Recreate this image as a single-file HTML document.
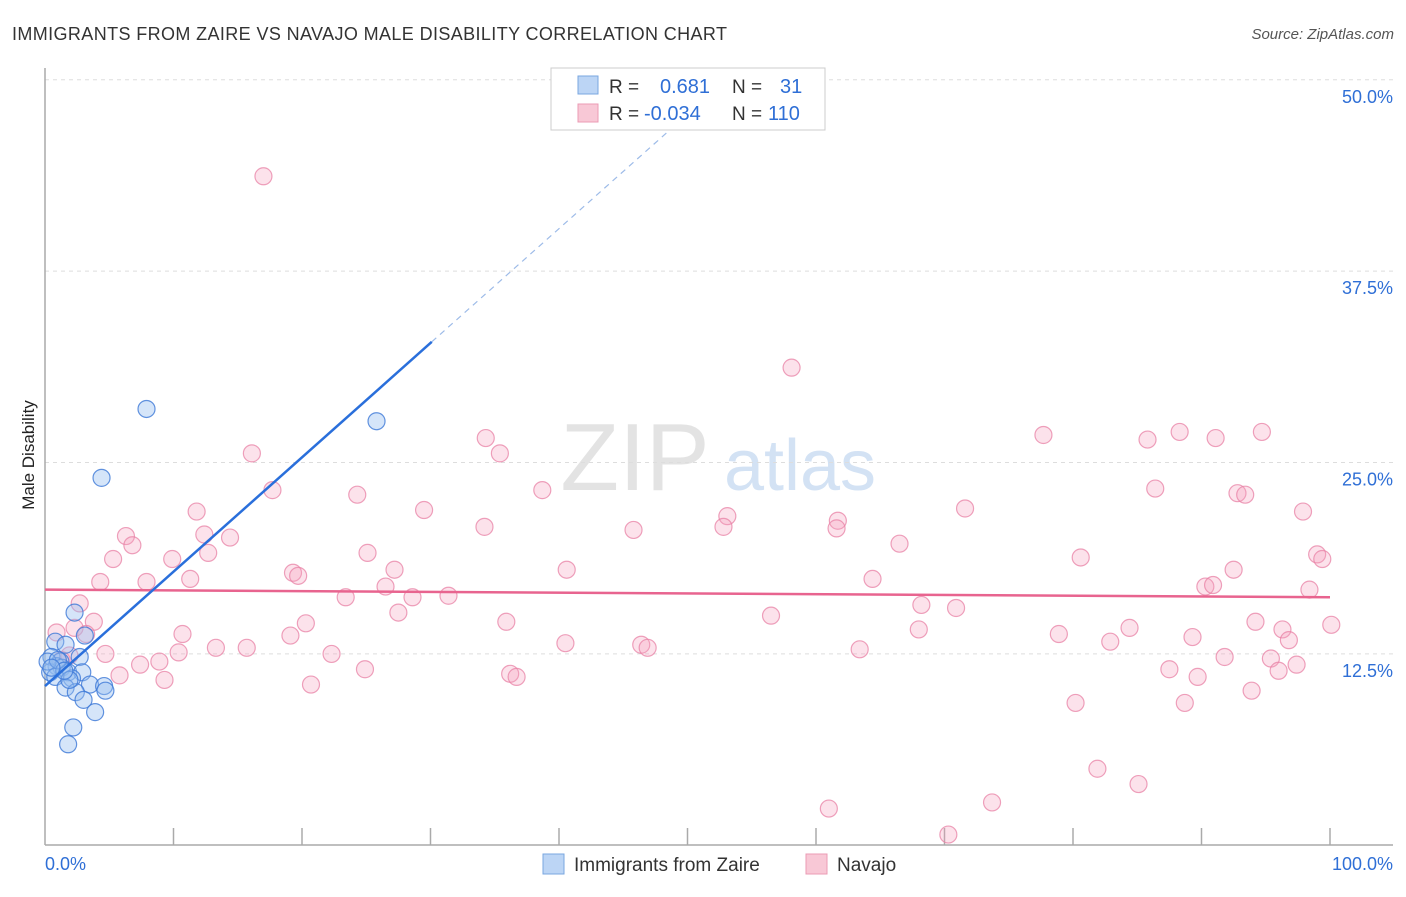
<!DOCTYPE html>
<html><head><meta charset="utf-8"><style>
body{margin:0;background:#fff;font-family:"Liberation Sans",sans-serif;}
svg text{font-family:"Liberation Sans",sans-serif;}
</style></head><body>
<svg id="chart" width="1406" height="892" viewBox="0 0 1406 892">
<text x="12" y="40" font-size="18" fill="#333" textLength="715">IMMIGRANTS FROM ZAIRE VS NAVAJO MALE DISABILITY CORRELATION CHART</text>
<text x="1394" y="39" font-size="15" fill="#555" font-style="italic" text-anchor="end">Source: ZipAtlas.com</text>
<text x="34" y="455" font-size="17" fill="#222" text-anchor="middle" transform="rotate(-90 34 455)">Male Disability</text>
<g>
<text x="635" y="490" font-size="96" fill="#ddd" font-family="Liberation Serif" text-anchor="middle" opacity="0.8">ZIP</text>
<text x="800" y="490" font-size="72" fill="#c9dcf2" text-anchor="middle" opacity="0.8">atlas</text>
</g>
<g id="grid"></g>
<g id="axes"></g>
<g id="marks"></g>
<g>
<rect x="551" y="68" width="274" height="62" fill="#fff" stroke="#ccc"/>
<rect x="578" y="76" width="20" height="18" fill="#bcd5f5" stroke="#7aa7e0"/>
<rect x="578" y="104" width="20" height="18" fill="#f8c8d6" stroke="#eb9bb4"/>
<text x="609" y="93" font-size="19" fill="#333">R = </text><text x="660" y="93" font-size="20" fill="#2f6fd6">0.681</text>
<text x="732" y="93" font-size="19" fill="#333">N = </text><text x="780" y="93" font-size="20" fill="#2f6fd6">31</text>
<text x="609" y="120" font-size="19" fill="#333">R = </text><text x="644" y="120" font-size="20" fill="#2f6fd6">-0.034</text>
<text x="732" y="120" font-size="19" fill="#333">N = </text><text x="768" y="120" font-size="20" fill="#2f6fd6">110</text>
</g>
<g>
<rect x="543" y="854" width="21" height="20" fill="#bcd5f5" stroke="#7aa7e0"/>
<text x="574" y="871" font-size="19" fill="#333">Immigrants from Zaire</text>
<rect x="806" y="854" width="21" height="20" fill="#f8c8d6" stroke="#eb9bb4"/>
<text x="837" y="871" font-size="19" fill="#333">Navajo</text>
</g>
</svg>
<script>
const yTicks=[12.5,25,37.5,50];
const yTickLabels=["12.5%","25.0%","37.5%","50.0%"];
const xTickLabels=["0.0%","100.0%"];
const zaireX=[7.9,25.8,4.4,2.3,3.1,0.8,1.6,0.5,2.7,1.2,0.9,1.3,0.4,1.8,2.9,0.8,2.1,3.5,1.6,2.4,4.6,4.7,3.0,3.9,2.2,1.8,0.2,1.0,1.9,1.5,0.5];
const zaireY=[28.5,27.7,24.0,15.2,13.7,13.3,13.1,12.3,12.3,12.0,11.7,11.6,11.3,11.3,11.3,11.0,10.9,10.5,10.3,10.0,10.4,10.1,9.5,8.7,7.7,6.6,12.0,12.1,10.8,11.4,11.6];
const navajoX=[17.0,58.1,16.1,34.3,35.4,77.7,85.8,88.3,91.1,94.7,17.7,24.3,38.7,86.4,92.8,93.4,11.8,29.5,34.2,45.8,53.1,52.8,61.7,61.6,71.6,97.9,6.3,12.4,14.4,6.8,5.3,9.9,12.7,25.1,66.5,80.6,99.0,99.4,4.3,7.9,11.3,19.3,19.7,27.2,40.6,64.4,92.5,26.5,90.3,90.9,98.4,2.7,3.8,23.4,28.6,31.4,68.2,70.9,27.5,56.5,94.2,20.3,35.9,0.9,2.3,3.2,10.7,19.1,68.0,78.9,84.4,89.3,96.3,96.8,40.5,46.4,46.9,13.3,15.7,4.7,8.9,10.4,22.3,63.4,82.9,91.8,95.4,97.4,96.0,7.4,5.8,24.9,87.5,89.7,9.3,20.7,36.2,36.7,93.9,80.2,88.7,81.9,85.1,61.0,73.7,70.3,100.1,1.3,1.9];
const navajoY=[43.7,31.2,25.6,26.6,25.6,26.8,26.5,27.0,26.6,27.0,23.2,22.9,23.2,23.3,23.0,22.9,21.8,21.9,20.8,20.6,21.5,20.8,21.2,20.7,22.0,21.8,20.2,20.3,20.1,19.6,18.7,18.7,19.1,19.1,19.7,18.8,19.0,18.7,17.2,17.2,17.4,17.8,17.6,18.0,18.0,17.4,18.0,16.9,16.9,17.0,16.7,15.8,14.6,16.2,16.2,16.3,15.7,15.5,15.2,15.0,14.6,14.5,14.6,13.9,14.2,13.8,13.8,13.7,14.1,13.8,14.2,13.6,14.1,13.4,13.2,13.1,12.9,12.9,12.9,12.5,12.0,12.6,12.5,12.8,13.3,12.3,12.2,11.8,11.4,11.8,11.1,11.5,11.5,11.0,10.8,10.5,11.2,11.0,10.1,9.3,9.3,5.0,4.0,2.4,2.8,0.7,14.4,12.1,12.4];
const zaireTrend=[10.4,0.747]; // intercept, slope
const navajoTrend=[16.7,-0.005];
const NS='http://www.w3.org/2000/svg';
const X=v=>45+v*12.85, Y=v=>845.3-v*15.31;
function mk(t,a,p){const e=document.createElementNS(NS,t);for(const k in a)e.setAttribute(k,a[k]);p.appendChild(e);return e;}
const grid=document.getElementById('grid'),axes=document.getElementById('axes'),marks=document.getElementById('marks');
yTicks.forEach((t,i)=>{
 const l=mk('line',{x1:45,x2:1393,y1:Y(t),y2:Y(t),stroke:'#ddd','stroke-dasharray':'4,4'},grid);
 
 
 const tx=mk('text',{x:1393,y:Y(t)+23,'font-size':18,fill:'#2f6fd6','text-anchor':'end'},axes);tx.textContent=yTickLabels[i];
 
 
});
let a=mk('line',{x1:45,x2:45,y1:68,y2:845,stroke:'#aaa','stroke-width':1.5},axes);


a=mk('line',{x1:45,x2:1393,y1:845,y2:845,stroke:'#aaa','stroke-width':1.5},axes);


for(let i=1;i<=10;i++){const t=mk('line',{x1:X(i*10),x2:X(i*10),y1:828,y2:845,stroke:'#aaa','stroke-width':1.5},axes);
 
 }
[[0,'start',45],[100,'end',1393]].forEach((d,i)=>{const t=mk('text',{x:d[2],y:870,'font-size':18,fill:'#2f6fd6','text-anchor':d[1]},axes);t.textContent=xTickLabels[i];
 
 });
navajoX.forEach((x,i)=>{const c=mk('circle',{cx:X(x),cy:Y(navajoY[i]),r:8.5,fill:'rgba(244,160,188,0.3)',stroke:'rgba(232,130,165,0.75)','stroke-width':1.2},marks);
 
 });
zaireX.forEach((x,i)=>{const c=mk('circle',{cx:X(x),cy:Y(zaireY[i]),r:8.5,fill:'rgba(150,190,240,0.4)',stroke:'rgba(60,120,215,0.8)','stroke-width':1.2},marks);
 
 });
let ln=mk('line',{x1:X(0),y1:Y(navajoTrend[0]),x2:X(100),y2:Y(navajoTrend[0]+navajoTrend[1]*100),stroke:'#e8648f','stroke-width':2.5},marks);


ln=mk('line',{x1:X(0),y1:Y(zaireTrend[0]),x2:X(30.1),y2:Y(zaireTrend[0]+zaireTrend[1]*30.1),stroke:'#2a6fdb','stroke-width':2.5},marks);


ln=mk('line',{x1:X(30.1),y1:Y(zaireTrend[0]+zaireTrend[1]*30.1),x2:X(51),y2:Y(zaireTrend[0]+zaireTrend[1]*51),stroke:'#9dbbe8','stroke-width':1.2,'stroke-dasharray':'6,5'},marks);


</script>
</body></html>
